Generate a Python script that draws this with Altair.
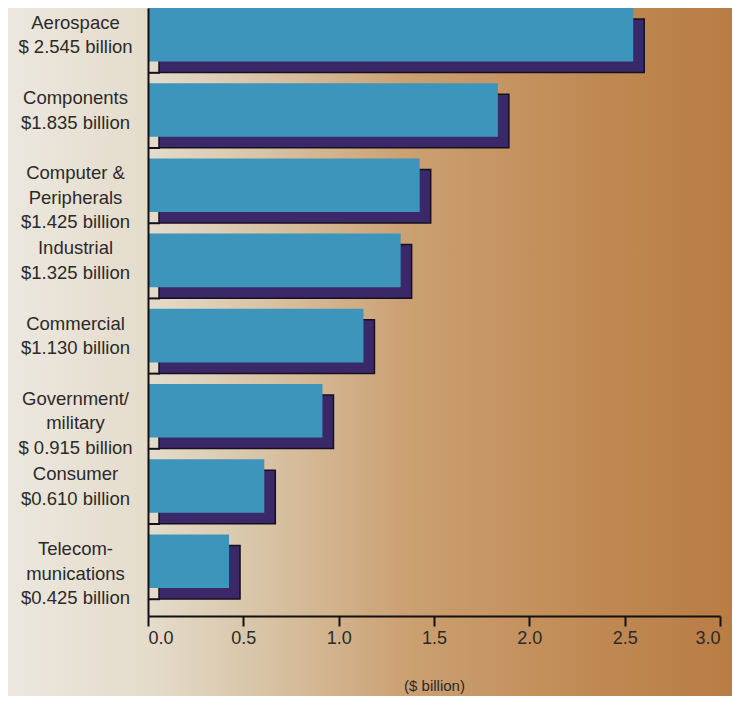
import altair as alt
import pandas as pd

categories = [
    "Aerospace\n$ 2.545 billion",
    "Components\n$1.835 billion",
    "Computer &\nPeripherals\n$1.425 billion",
    "Industrial\n$1.325 billion",
    "Commercial\n$1.130 billion",
    "Government/\nmilitary\n$ 0.915 billion",
    "Consumer\n$0.610 billion",
    "Telecom-\nmunications\n$0.425 billion",
]
values = [2.545, 1.835, 1.425, 1.325, 1.130, 0.915, 0.610, 0.425]
x_ticks = [0.0, 0.5, 1.0, 1.5, 2.0, 2.5, 3.0]

df = pd.DataFrame({"cat": categories, "value": values})

FONT = "Liberation Sans"

y_scale = alt.Scale(paddingInner=0.287, paddingOuter=0.186, align=0)
y_enc = alt.Y(
    "cat:N",
    sort=categories,
    scale=y_scale,
    axis=alt.Axis(
        title=None,
        ticks=False,
        domain=True,
        domainColor="#111111",
        domainWidth=2,
        labelAlign="center",
        labelBaseline="middle",
        labelPadding=73,
        labelOffset=-12,
        labelFontSize=18.5,
        labelLineHeight=24.5,
        labelColor="#2a2a2a",
        labelFont=FONT,
        labelExpr="split(datum.label, '\\n')",
        labelLimit=0,
        grid=False,
        zindex=2,
    ),
)
x_enc = alt.X(
    "value:Q",
    scale=alt.Scale(domain=[0, 3.0], nice=False),
    axis=alt.Axis(
        values=x_ticks,
        format=".1f",
        title="($ billion)",
        titleFontSize=15,
        titleFont=FONT,
        titleFontWeight="normal",
        titleColor="#2a2a2a",
        titlePadding=31,
        tickSize=10,
        tickWidth=2,
        tickColor="#111111",
        domainColor="#111111",
        domainWidth=2,
        labelFontSize=18,
        labelFont=FONT,
        labelColor="#2a2a2a",
        labelPadding=3,
        grid=False,
        zindex=2,
    ),
)

bg = alt.Chart().mark_rect(
    fill=alt.Gradient(
        gradient="linear",
        stops=[
            alt.GradientStop(color="#ece8df", offset=0.0),
            alt.GradientStop(color="#e4dbca", offset=0.2),
            alt.GradientStop(color="#d8c4a6", offset=0.35),
            alt.GradientStop(color="#cba072", offset=0.55),
            alt.GradientStop(color="#c08a54", offset=0.8),
            alt.GradientStop(color="#b97c45", offset=1.0),
        ],
        x1=0, x2=1, y1=0, y2=0,
    )
).encode(
    x=alt.value(-140), x2=alt.value(586), y=alt.value(-10), y2=alt.value(700)
)

shadow = alt.Chart().mark_bar(
    color="#3b2869", stroke="#151020", strokeWidth=1.5, xOffset=11, yOffset=11
).encode(x=x_enc, y=y_enc)

bars = alt.Chart().mark_bar(color="#3d95bb").encode(x=x_enc, y=y_enc)

stub = alt.Chart().mark_rule(color="#151020", strokeWidth=2, yOffset=38).encode(
    x=alt.value(0), x2=alt.value(12), y=alt.Y("cat:N", sort=categories)
)

chart = alt.layer(bg, shadow, bars, stub, data=df).properties(
    width=572,
    height=608,
    autosize=alt.AutoSizeParams(type="none"),
    padding={"left": 140, "right": 12, "top": 0, "bottom": 80},
    background="#ece8df",
).configure_view(stroke=None)

chart.save("out.html", embed_options={"renderer": "svg", "actions": False})
